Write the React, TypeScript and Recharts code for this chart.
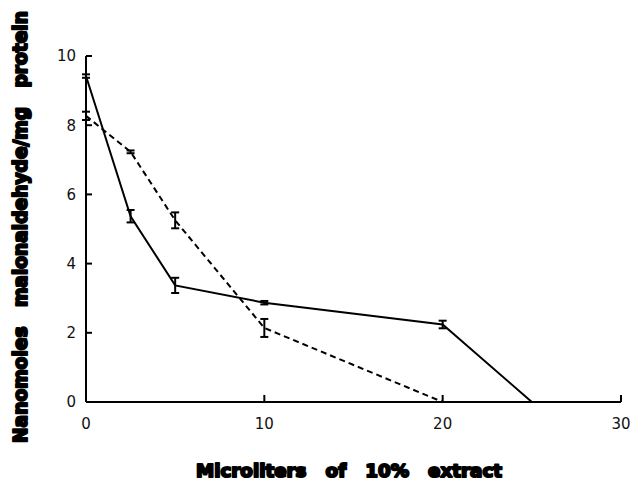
import { LineChart, Line, XAxis, YAxis, ErrorBar, Label } from 'recharts';

// Solid curve
const solidX = [0, 2.5, 5, 10, 20, 25];
const solidY = [9.42, 5.37, 3.37, 2.87, 2.24, 0];
const solidErr = [0.05, 0.18, 0.22, 0.05, 0.11, 0];

// Dashed curve
const dashedX = [0, 2.5, 5, 10, 20];
const dashedY = [8.27, 7.23, 5.25, 2.14, 0];
const dashedErr = [0.12, 0.04, 0.23, 0.26, 0];

const xTicks = [0, 10, 20, 30];
const yTicks = [0, 2, 4, 6, 8, 10];

const xTitle = 'Microliters\u00a0\u00a0 of\u00a0\u00a0 10%\u00a0\u00a0 extract';
const yTitle = 'Nanomoles\u00a0\u00a0 malonaldehyde/mg\u00a0\u00a0 protein';

const solidData = solidX.map((x, i) => ({ x, y: solidY[i], err: solidErr[i] }));
const dashedData = dashedX.map((x, i) => ({ x, y: dashedY[i], err: dashedErr[i] }));

const TICK_IN = 7;
const GAP = 10;

const titleStyle = {
  fontFamily: 'DejaVu Sans',
  fontWeight: 700,
  fill: '#000',
  stroke: '#000',
  strokeWidth: 2,
  strokeLinejoin: 'round' as const,
};

// ticks point into the plot, like the original figure
const XTick = (props: any) => {
  const { x, y, payload } = props;
  const axisY = y - GAP;
  return (
    <g>
      {payload.value !== 0 && (
        <line x1={x} x2={x} y1={axisY} y2={axisY - TICK_IN} stroke="#000" strokeWidth={2} />
      )}
      <text x={x} y={y + 6} dy="0.71em" textAnchor="middle" fontFamily="DejaVu Sans" fontSize={15} fill="#111">
        {payload.value}
      </text>
    </g>
  );
};

const YTick = (props: any) => {
  const { x, y, payload } = props;
  const axisX = x + GAP;
  return (
    <g>
      {payload.value !== 0 && (
        <line x1={axisX} x2={axisX + TICK_IN - 1} y1={y} y2={y} stroke="#000" strokeWidth={2} />
      )}
      <text x={x} y={y} dy="0.355em" textAnchor="end" fontFamily="DejaVu Sans" fontSize={15} fill="#111">
        {payload.value}
      </text>
    </g>
  );
};

export default function App() {
  return (
    <div style={{ position: 'absolute', left: 0, top: 0, width: 636, height: 482, background: '#fff' }}>
      <LineChart width={636} height={482} margin={{ top: 56, right: 15, left: 0, bottom: 50 }}>
        <XAxis
          dataKey="x"
          type="number"
          domain={[0, 30]}
          ticks={xTicks}
          height={30}
          axisLine={{ stroke: '#000', strokeWidth: 2 }}
          tickLine={false}
          tickSize={0}
          tickMargin={GAP}
          tick={<XTick />}
        >
          <Label
            content={() => (
              <text
                x={349}
                y={477}
                textAnchor="middle"
                fontSize={18}
                textLength={306}
                lengthAdjust="spacingAndGlyphs"
                style={titleStyle}
              >
                {xTitle}
              </text>
            )}
          />
        </XAxis>
        <YAxis
          dataKey="y"
          type="number"
          domain={[0, 10]}
          ticks={yTicks}
          width={86}
          axisLine={{ stroke: '#000', strokeWidth: 2 }}
          tickLine={false}
          tickSize={0}
          tickMargin={GAP}
          tick={<YTick />}
        >
          <Label
            content={() => (
              <text
                x={0}
                y={0}
                transform="translate(27 227) rotate(-90)"
                textAnchor="middle"
                fontSize={19}
                textLength={432}
                lengthAdjust="spacingAndGlyphs"
                style={titleStyle}
              >
                {yTitle}
              </text>
            )}
          />
        </YAxis>
        <Line
          data={solidData}
          dataKey="y"
          type="linear"
          stroke="#000"
          strokeWidth={2}
          dot={false}
          isAnimationActive={false}
        >
          <ErrorBar dataKey="err" direction="y" width={4} stroke="#000" strokeWidth={2} />
        </Line>
        <Line
          data={dashedData}
          dataKey="y"
          type="linear"
          stroke="#000"
          strokeWidth={2}
          strokeDasharray="6 4"
          dot={false}
          isAnimationActive={false}
        >
          <ErrorBar dataKey="err" direction="y" width={4} stroke="#000" strokeWidth={2} />
        </Line>
      </LineChart>
    </div>
  );
}
